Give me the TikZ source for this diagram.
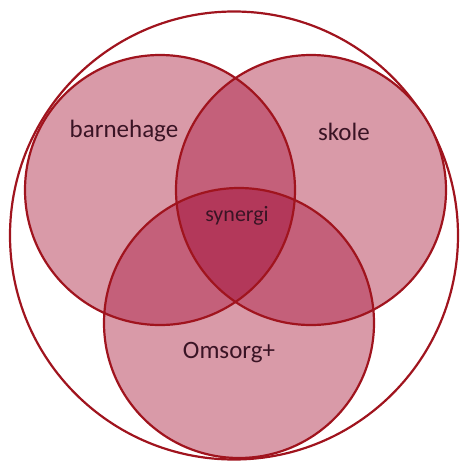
\documentclass[tikz,border=0pt]{standalone}
\usepackage{fontspec}
\setmainfont{Carlito}
\definecolor{edge}{HTML}{A0141E}
\definecolor{one}{HTML}{D99AA8}
\definecolor{two}{HTML}{C4607A}
\definecolor{three}{HTML}{B3385A}
\definecolor{txt}{HTML}{3A1425}
\begin{document}
\begin{tikzpicture}[x=1pt,y=1pt,
  ring/.style={draw=edge,line width=2.2pt},
  lbl/.style={text=txt,font=\fontsize{25}{28}\selectfont,inner sep=0pt}]
\useasboundingbox (0,0) rectangle (460,-463);
\coordinate (ca) at (160,-190);
\coordinate (cb) at (311,-190);
\coordinate (cc) at (239,-323);
\def\R{135}
% outer circle
\draw[ring] (234,-235.5) circle (224);
% single fills
\fill[one] (ca) circle (\R);
\fill[one] (cb) circle (\R);
\fill[one] (cc) circle (\R);
% pair fills
\begin{scope}\clip (ca) circle (\R); \fill[two] (cb) circle (\R); \fill[two] (cc) circle (\R);\end{scope}
\begin{scope}\clip (cb) circle (\R); \fill[two] (cc) circle (\R);\end{scope}
% triple
\begin{scope}\clip (ca) circle (\R); \clip (cb) circle (\R); \fill[three] (cc) circle (\R);\end{scope}
% outlines
\draw[ring] (ca) circle (\R);
\draw[ring] (cb) circle (\R);
\draw[ring] (cc) circle (\R);
% labels
\node[lbl] (barnehage) at (124,-131) {barnehage};
\node[lbl] (skole) at (344,-132) {skole};
\node[lbl] (omsorg) at (229,-353) {Omsorg+};
\node[lbl,font=\fontsize{22}{26}\selectfont] (synergi) at (237,-216) {synergi};
\end{tikzpicture}
\end{document}
